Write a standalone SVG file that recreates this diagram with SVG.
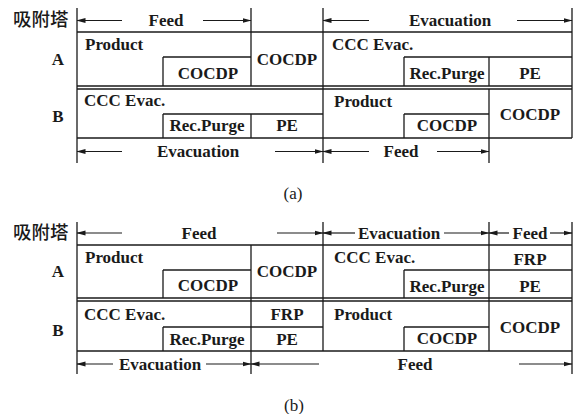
<svg xmlns="http://www.w3.org/2000/svg" width="577" height="414" viewBox="0 0 577 414">
<defs>
<marker id="ah" markerUnits="userSpaceOnUse" markerWidth="9" markerHeight="6" refX="8.5" refY="3" orient="auto">
<path d="M0,0.6 L9,3 L0,5.4 z" fill="#1a1a1a"/>
</marker>
</defs>
<style>
.ln{stroke:#1a1a1a;stroke-width:1.3;fill:none}
.ar{stroke:#1a1a1a;stroke-width:1.2;fill:none;marker-end:url(#ah)}
text.t{font-family:'Liberation Serif','DejaVu Serif',serif;font-weight:bold;font-size:17px;fill:#1a1a1a}
text.c{text-anchor:middle}
text.cjk{font-family:'Noto Sans CJK SC','Noto Sans CJK JP',sans-serif;font-size:18.5px;font-weight:500;fill:#1a1a1a}
text.cap{font-family:'Liberation Serif','DejaVu Serif',serif;font-size:17px;fill:#1a1a1a;text-anchor:middle}
</style>
<rect width="577" height="414" fill="#ffffff"/>

<!-- ===== (a) ===== -->
<g id="a-grid" class="ln">
<line x1="77" y1="8" x2="77" y2="163"/>
<line x1="77" y1="32" x2="572" y2="32"/>
<line x1="77" y1="86" x2="572" y2="86"/>
<line x1="77" y1="89" x2="572" y2="89"/>
<line x1="77" y1="138" x2="572" y2="138"/>
<line x1="572" y1="8" x2="572" y2="138"/>
<line x1="251" y1="8" x2="251" y2="86"/>
<line x1="251" y1="114" x2="251" y2="138"/>
<line x1="323" y1="8" x2="323" y2="163"/>
<line x1="489" y1="57" x2="489" y2="86"/>
<line x1="489" y1="89" x2="489" y2="163"/>
<line x1="163" y1="57" x2="163" y2="86"/>
<line x1="163" y1="114" x2="163" y2="138"/>
<line x1="404" y1="57" x2="404" y2="86"/>
<line x1="404" y1="114" x2="404" y2="138"/>
<line x1="163" y1="57" x2="251" y2="57"/>
<line x1="404" y1="57" x2="572" y2="57"/>
<line x1="163" y1="114" x2="323" y2="114"/>
<line x1="404" y1="114" x2="489" y2="114"/>
</g>
<g id="a-header">
<text class="cjk" x="13" y="26">吸附塔</text>
<text class="t c" x="166" y="26" font-family="Liberation Serif, serif">Feed</text>
<text class="t c" x="450" y="26">Evacuation</text>
</g>
<g id="a-rowA">
<text class="t c" x="58" y="65">A</text>
<text class="t" x="85" y="50">Product</text>
<text class="t c" x="208" y="79">COCDP</text>
<text class="t c" x="287" y="65">COCDP</text>
<text class="t" x="332" y="50">CCC Evac.</text>
<text class="t c" x="447" y="79">Rec.Purge</text>
<text class="t c" x="530" y="79">PE</text>
</g>
<g id="a-rowB">
<text class="t c" x="58" y="122">B</text>
<text class="t" x="84" y="106">CCC Evac.</text>
<text class="t c" x="207" y="131">Rec.Purge</text>
<text class="t c" x="287" y="131">PE</text>
<text class="t" x="334" y="107">Product</text>
<text class="t c" x="447" y="131">COCDP</text>
<text class="t c" x="530" y="120">COCDP</text>
</g>
<g id="a-footer">
<text class="t c" x="198" y="157">Evacuation</text>
<text class="t c" x="401" y="157">Feed</text>
<text class="cap" x="293" y="199">(a)</text>
</g>

<!-- ===== (b) ===== -->
<g id="b-grid" class="ln">
<line x1="77" y1="222" x2="77" y2="374"/>
<line x1="77" y1="245" x2="572" y2="245"/>
<line x1="77" y1="298" x2="572" y2="298"/>
<line x1="77" y1="301" x2="572" y2="301"/>
<line x1="77" y1="351" x2="572" y2="351"/>
<line x1="572" y1="222" x2="572" y2="374"/>
<line x1="251" y1="245" x2="251" y2="374"/>
<line x1="323" y1="222" x2="323" y2="351"/>
<line x1="489" y1="222" x2="489" y2="351"/>
<line x1="163" y1="270" x2="163" y2="298"/>
<line x1="163" y1="327" x2="163" y2="351"/>
<line x1="404" y1="270" x2="404" y2="298"/>
<line x1="404" y1="327" x2="404" y2="351"/>
<line x1="163" y1="270" x2="251" y2="270"/>
<line x1="404" y1="270" x2="572" y2="270"/>
<line x1="163" y1="327" x2="323" y2="327"/>
<line x1="404" y1="327" x2="489" y2="327"/>
</g>
<g id="b-header">
<text class="cjk" x="13" y="239">吸附塔</text>
<text class="t c" x="199" y="239">Feed</text>
<text class="t c" x="399" y="239">Evacuation</text>
<text class="t c" x="530" y="239">Feed</text>
</g>
<g id="b-rowA">
<text class="t c" x="58" y="277">A</text>
<text class="t" x="85" y="263">Product</text>
<text class="t c" x="208" y="291">COCDP</text>
<text class="t c" x="287" y="277">COCDP</text>
<text class="t" x="334" y="263">CCC Evac.</text>
<text class="t c" x="530" y="265">FRP</text>
<text class="t c" x="447" y="292">Rec.Purge</text>
<text class="t c" x="530" y="292">PE</text>
</g>
<g id="b-rowB">
<text class="t c" x="58" y="336">B</text>
<text class="t" x="84" y="320">CCC Evac.</text>
<text class="t c" x="207" y="345">Rec.Purge</text>
<text class="t c" x="287" y="320">FRP</text>
<text class="t c" x="287" y="345">PE</text>
<text class="t" x="334" y="320">Product</text>
<text class="t c" x="447" y="344">COCDP</text>
<text class="t c" x="530" y="333">COCDP</text>
</g>
<g id="b-footer">
<text class="t c" x="160" y="370">Evacuation</text>
<text class="t c" x="415" y="370">Feed</text>
<text class="cap" x="294" y="411">(b)</text>
</g>

<!-- ===== connectors (span arrows) ===== -->
<g id="connectors">
<line class="ar" x1="122" y1="20.5" x2="77" y2="20.5"/>
<line class="ar" x1="203" y1="20.5" x2="251" y2="20.5"/>
<line class="ar" x1="369" y1="20.5" x2="323" y2="20.5"/>
<line class="ar" x1="517" y1="20.5" x2="572" y2="20.5"/>
<line class="ar" x1="122" y1="151.5" x2="77" y2="151.5"/>
<line class="ar" x1="275" y1="151.5" x2="323" y2="151.5"/>
<line class="ar" x1="369" y1="151.5" x2="323" y2="151.5"/>
<line class="ar" x1="437" y1="151.5" x2="489" y2="151.5"/>

<line class="ar" x1="122" y1="233" x2="77" y2="233"/>
<line class="ar" x1="277" y1="233" x2="323" y2="233"/>
<line class="ar" x1="355" y1="233" x2="323" y2="233"/>
<line class="ar" x1="444" y1="233" x2="489" y2="233"/>
<line class="ar" x1="509" y1="233" x2="489" y2="233"/>
<line class="ar" x1="550" y1="233" x2="572" y2="233"/>
<line class="ar" x1="113" y1="364" x2="77" y2="364"/>
<line class="ar" x1="206" y1="364" x2="251" y2="364"/>
<line class="ar" x1="319" y1="364" x2="251" y2="364"/>
<line class="ar" x1="519" y1="364" x2="572" y2="364"/>
</g>
</svg>
